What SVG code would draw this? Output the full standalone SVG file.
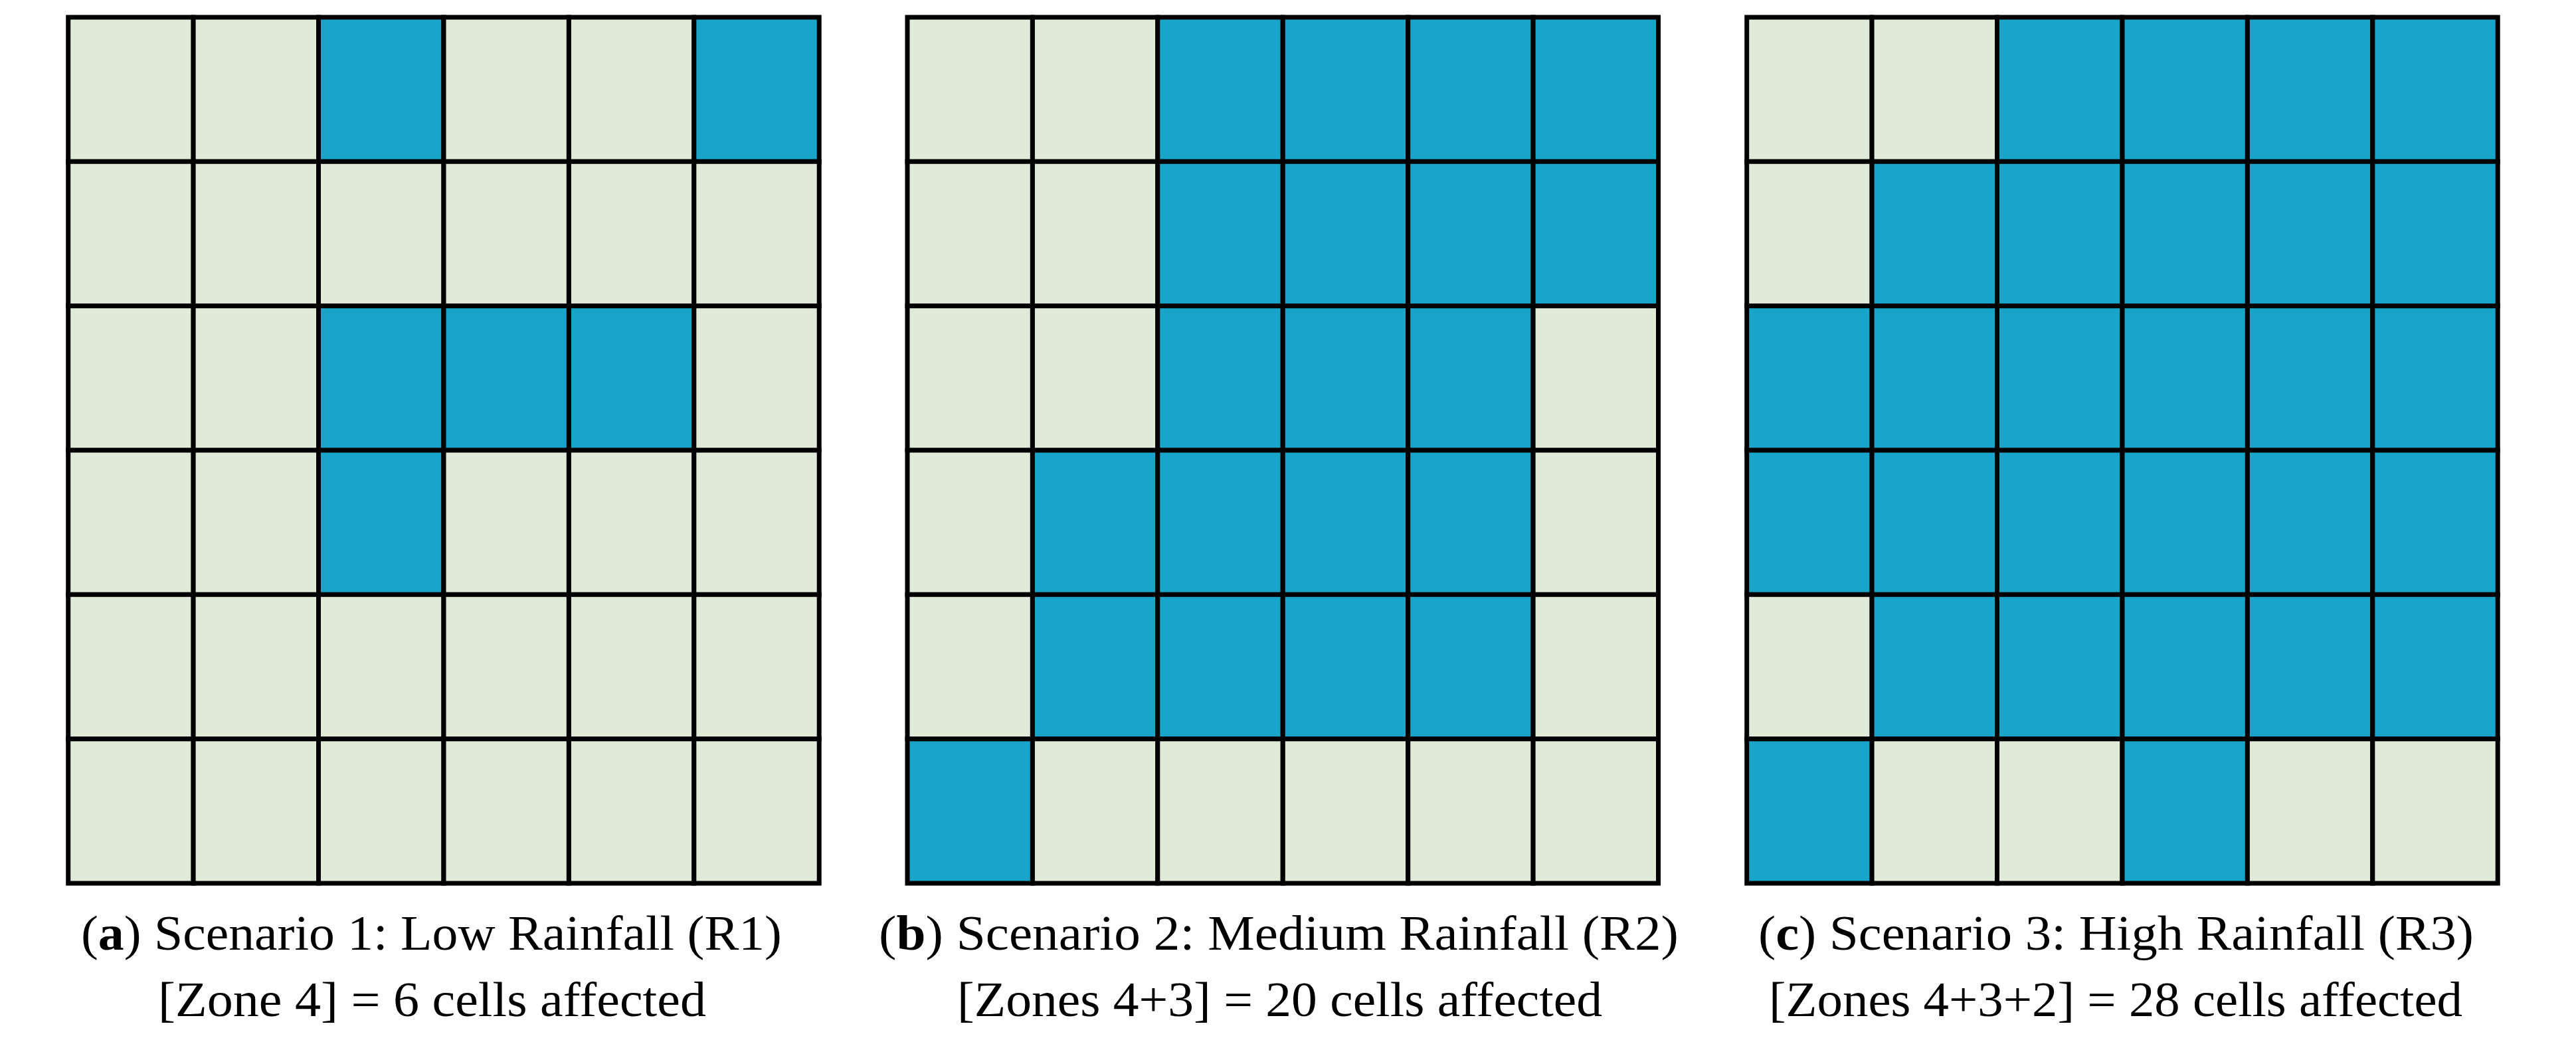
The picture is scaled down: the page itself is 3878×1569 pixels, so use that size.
<svg xmlns="http://www.w3.org/2000/svg" width="3878" height="1569" viewBox="0 0 3878 1569">
<style>
.l{fill:#e0ead8;stroke:#000;stroke-width:7}
.b{fill:#19a5ca;stroke:#000;stroke-width:7}
.cap{font-family:"Liberation Serif","Times New Roman",serif;font-size:75px;fill:#000}
.bd{font-weight:bold}
</style>
<rect width="3878" height="1569" fill="#fff"/>
<g id="grid-a">
<rect class="l" x="102.7" y="26" width="188.4" height="217.3"/><rect class="l" x="291.1" y="26" width="188.4" height="217.3"/><rect class="b" x="479.5" y="26" width="188.4" height="217.3"/><rect class="l" x="668" y="26" width="188.4" height="217.3"/><rect class="l" x="856.4" y="26" width="188.4" height="217.3"/><rect class="b" x="1044.8" y="26" width="188.4" height="217.3"/>
<rect class="l" x="102.7" y="243.3" width="188.4" height="217.3"/><rect class="l" x="291.1" y="243.3" width="188.4" height="217.3"/><rect class="l" x="479.5" y="243.3" width="188.4" height="217.3"/><rect class="l" x="668" y="243.3" width="188.4" height="217.3"/><rect class="l" x="856.4" y="243.3" width="188.4" height="217.3"/><rect class="l" x="1044.8" y="243.3" width="188.4" height="217.3"/>
<rect class="l" x="102.7" y="460.7" width="188.4" height="217.3"/><rect class="l" x="291.1" y="460.7" width="188.4" height="217.3"/><rect class="b" x="479.5" y="460.7" width="188.4" height="217.3"/><rect class="b" x="668" y="460.7" width="188.4" height="217.3"/><rect class="b" x="856.4" y="460.7" width="188.4" height="217.3"/><rect class="l" x="1044.8" y="460.7" width="188.4" height="217.3"/>
<rect class="l" x="102.7" y="678" width="188.4" height="217.3"/><rect class="l" x="291.1" y="678" width="188.4" height="217.3"/><rect class="b" x="479.5" y="678" width="188.4" height="217.3"/><rect class="l" x="668" y="678" width="188.4" height="217.3"/><rect class="l" x="856.4" y="678" width="188.4" height="217.3"/><rect class="l" x="1044.8" y="678" width="188.4" height="217.3"/>
<rect class="l" x="102.7" y="895.3" width="188.4" height="217.3"/><rect class="l" x="291.1" y="895.3" width="188.4" height="217.3"/><rect class="l" x="479.5" y="895.3" width="188.4" height="217.3"/><rect class="l" x="668" y="895.3" width="188.4" height="217.3"/><rect class="l" x="856.4" y="895.3" width="188.4" height="217.3"/><rect class="l" x="1044.8" y="895.3" width="188.4" height="217.3"/>
<rect class="l" x="102.7" y="1112.7" width="188.4" height="217.3"/><rect class="l" x="291.1" y="1112.7" width="188.4" height="217.3"/><rect class="l" x="479.5" y="1112.7" width="188.4" height="217.3"/><rect class="l" x="668" y="1112.7" width="188.4" height="217.3"/><rect class="l" x="856.4" y="1112.7" width="188.4" height="217.3"/><rect class="l" x="1044.8" y="1112.7" width="188.4" height="217.3"/>
</g>
<g id="grid-b">
<rect class="l" x="1366" y="26" width="188.4" height="217.3"/><rect class="l" x="1554.4" y="26" width="188.4" height="217.3"/><rect class="b" x="1742.8" y="26" width="188.4" height="217.3"/><rect class="b" x="1931.3" y="26" width="188.4" height="217.3"/><rect class="b" x="2119.7" y="26" width="188.4" height="217.3"/><rect class="b" x="2308.1" y="26" width="188.4" height="217.3"/>
<rect class="l" x="1366" y="243.3" width="188.4" height="217.3"/><rect class="l" x="1554.4" y="243.3" width="188.4" height="217.3"/><rect class="b" x="1742.8" y="243.3" width="188.4" height="217.3"/><rect class="b" x="1931.3" y="243.3" width="188.4" height="217.3"/><rect class="b" x="2119.7" y="243.3" width="188.4" height="217.3"/><rect class="b" x="2308.1" y="243.3" width="188.4" height="217.3"/>
<rect class="l" x="1366" y="460.7" width="188.4" height="217.3"/><rect class="l" x="1554.4" y="460.7" width="188.4" height="217.3"/><rect class="b" x="1742.8" y="460.7" width="188.4" height="217.3"/><rect class="b" x="1931.3" y="460.7" width="188.4" height="217.3"/><rect class="b" x="2119.7" y="460.7" width="188.4" height="217.3"/><rect class="l" x="2308.1" y="460.7" width="188.4" height="217.3"/>
<rect class="l" x="1366" y="678" width="188.4" height="217.3"/><rect class="b" x="1554.4" y="678" width="188.4" height="217.3"/><rect class="b" x="1742.8" y="678" width="188.4" height="217.3"/><rect class="b" x="1931.3" y="678" width="188.4" height="217.3"/><rect class="b" x="2119.7" y="678" width="188.4" height="217.3"/><rect class="l" x="2308.1" y="678" width="188.4" height="217.3"/>
<rect class="l" x="1366" y="895.3" width="188.4" height="217.3"/><rect class="b" x="1554.4" y="895.3" width="188.4" height="217.3"/><rect class="b" x="1742.8" y="895.3" width="188.4" height="217.3"/><rect class="b" x="1931.3" y="895.3" width="188.4" height="217.3"/><rect class="b" x="2119.7" y="895.3" width="188.4" height="217.3"/><rect class="l" x="2308.1" y="895.3" width="188.4" height="217.3"/>
<rect class="b" x="1366" y="1112.7" width="188.4" height="217.3"/><rect class="l" x="1554.4" y="1112.7" width="188.4" height="217.3"/><rect class="l" x="1742.8" y="1112.7" width="188.4" height="217.3"/><rect class="l" x="1931.3" y="1112.7" width="188.4" height="217.3"/><rect class="l" x="2119.7" y="1112.7" width="188.4" height="217.3"/><rect class="l" x="2308.1" y="1112.7" width="188.4" height="217.3"/>
</g>
<g id="grid-c">
<rect class="l" x="2629.7" y="26" width="188.4" height="217.3"/><rect class="l" x="2818.1" y="26" width="188.4" height="217.3"/><rect class="b" x="3006.5" y="26" width="188.4" height="217.3"/><rect class="b" x="3195" y="26" width="188.4" height="217.3"/><rect class="b" x="3383.4" y="26" width="188.4" height="217.3"/><rect class="b" x="3571.8" y="26" width="188.4" height="217.3"/>
<rect class="l" x="2629.7" y="243.3" width="188.4" height="217.3"/><rect class="b" x="2818.1" y="243.3" width="188.4" height="217.3"/><rect class="b" x="3006.5" y="243.3" width="188.4" height="217.3"/><rect class="b" x="3195" y="243.3" width="188.4" height="217.3"/><rect class="b" x="3383.4" y="243.3" width="188.4" height="217.3"/><rect class="b" x="3571.8" y="243.3" width="188.4" height="217.3"/>
<rect class="b" x="2629.7" y="460.7" width="188.4" height="217.3"/><rect class="b" x="2818.1" y="460.7" width="188.4" height="217.3"/><rect class="b" x="3006.5" y="460.7" width="188.4" height="217.3"/><rect class="b" x="3195" y="460.7" width="188.4" height="217.3"/><rect class="b" x="3383.4" y="460.7" width="188.4" height="217.3"/><rect class="b" x="3571.8" y="460.7" width="188.4" height="217.3"/>
<rect class="b" x="2629.7" y="678" width="188.4" height="217.3"/><rect class="b" x="2818.1" y="678" width="188.4" height="217.3"/><rect class="b" x="3006.5" y="678" width="188.4" height="217.3"/><rect class="b" x="3195" y="678" width="188.4" height="217.3"/><rect class="b" x="3383.4" y="678" width="188.4" height="217.3"/><rect class="b" x="3571.8" y="678" width="188.4" height="217.3"/>
<rect class="l" x="2629.7" y="895.3" width="188.4" height="217.3"/><rect class="b" x="2818.1" y="895.3" width="188.4" height="217.3"/><rect class="b" x="3006.5" y="895.3" width="188.4" height="217.3"/><rect class="b" x="3195" y="895.3" width="188.4" height="217.3"/><rect class="b" x="3383.4" y="895.3" width="188.4" height="217.3"/><rect class="b" x="3571.8" y="895.3" width="188.4" height="217.3"/>
<rect class="b" x="2629.7" y="1112.7" width="188.4" height="217.3"/><rect class="l" x="2818.1" y="1112.7" width="188.4" height="217.3"/><rect class="l" x="3006.5" y="1112.7" width="188.4" height="217.3"/><rect class="b" x="3195" y="1112.7" width="188.4" height="217.3"/><rect class="l" x="3383.4" y="1112.7" width="188.4" height="217.3"/><rect class="l" x="3571.8" y="1112.7" width="188.4" height="217.3"/>
</g>
<g id="connectors"/>
<g id="captions">
<text class="cap" x="122" y="1430" textLength="1055" lengthAdjust="spacingAndGlyphs">(<tspan class="bd">a</tspan>) Scenario 1: Low Rainfall (R1)</text>
<text class="cap" x="238" y="1530" textLength="825" lengthAdjust="spacingAndGlyphs">[Zone 4] = 6 cells affected</text>
<text class="cap" x="1323" y="1430" textLength="1204" lengthAdjust="spacingAndGlyphs">(<tspan class="bd">b</tspan>) Scenario 2: Medium Rainfall (R2)</text>
<text class="cap" x="1441" y="1530" textLength="971" lengthAdjust="spacingAndGlyphs">[Zones 4+3] = 20 cells affected</text>
<text class="cap" x="2647" y="1430" textLength="1077" lengthAdjust="spacingAndGlyphs">(<tspan class="bd">c</tspan>) Scenario 3: High Rainfall (R3)</text>
<text class="cap" x="2663" y="1530" textLength="1044" lengthAdjust="spacingAndGlyphs">[Zones 4+3+2] = 28 cells affected</text>
</g>
</svg>
